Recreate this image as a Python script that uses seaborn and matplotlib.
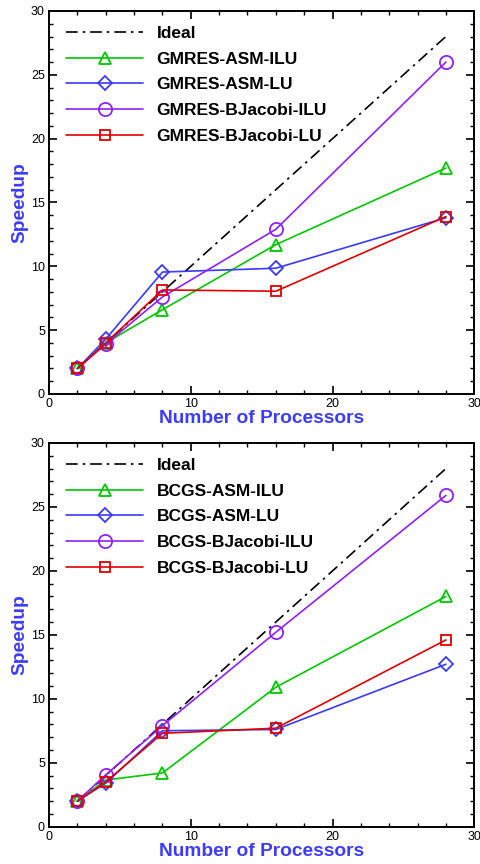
import pandas as pd
import matplotlib
matplotlib.use('Agg')
import matplotlib.pyplot as plt
import seaborn as sns
from matplotlib.ticker import MultipleLocator

# processor counts
procs = [2, 4, 8, 16, 28]
ideal = [2, 4, 8, 16, 28]

# GMRES speedups
gmres_asm_ilu = [2.0, 4.0, 6.6, 11.7, 17.7]
gmres_asm_lu = [2.0, 4.3, 9.55, 9.85, 13.8]
gmres_bj_ilu = [2.0, 3.9, 7.6, 12.9, 26.0]
gmres_bj_lu = [2.0, 4.0, 8.15, 8.05, 13.9]

# BCGS speedups
bcgs_asm_ilu = [2.0, 3.65, 4.2, 10.9, 18.0]
bcgs_asm_lu = [2.0, 3.4, 7.5, 7.6, 12.7]
bcgs_bj_ilu = [2.0, 4.05, 7.9, 15.2, 25.9]
bcgs_bj_lu = [2.0, 3.5, 7.3, 7.7, 14.6]

sns.set_style('ticks')
plt.rcParams['font.family'] = ['Liberation Sans', 'DejaVu Sans']
plt.rcParams['text.color'] = 'black'
plt.rcParams['axes.edgecolor'] = 'black'

label_color = '#3c3cff'
styles = [
    ('ASM-ILU', '#00c800', '^', 9),
    ('ASM-LU', '#3a3aff', 'D', 7.5),
    ('BJacobi-ILU', '#9020ff', 'o', 9.5),
    ('BJacobi-LU', '#e00000', 's', 7.5),
]

fig = plt.figure(figsize=(4.81, 8.64), dpi=100)
ax_top = fig.add_axes([0.102, 0.544, 0.884, 0.4433])
ax_bot = fig.add_axes([0.102, 0.0432, 0.884, 0.4441])


def draw(ax, prefix, series):
    sns.lineplot(x=procs, y=ideal, ax=ax, color='black', lw=1.2,
                 linestyle=(0, (7, 3, 1.5, 3)), label='Ideal')
    for (name, color, marker, ms), vals in zip(styles, series):
        sns.lineplot(x=procs, y=vals, ax=ax, color=color, lw=1.2,
                     marker=marker, markersize=ms, markerfacecolor='none',
                     markeredgecolor=color, markeredgewidth=1.3,
                     label=f'{prefix}-{name}')
    ax.set_xlim(0, 30)
    ax.set_ylim(0, 30)
    ax.xaxis.set_major_locator(MultipleLocator(10))
    ax.xaxis.set_minor_locator(MultipleLocator(2))
    ax.yaxis.set_major_locator(MultipleLocator(5))
    ax.yaxis.set_minor_locator(MultipleLocator(1))
    ax.tick_params(which='both', direction='in', top=True, right=True,
                   labelsize=9, colors='black', pad=3)
    ax.tick_params(which='major', length=6, width=1.2)
    ax.tick_params(which='minor', length=3, width=1.0)
    for s in ax.spines.values():
        s.set_linewidth(1.4)
        s.set_visible(True)
    ax.set_xlabel('Number of Processors', fontsize=13.8, fontweight='bold',
                  color=label_color, labelpad=0)
    ax.set_ylabel('Speedup', fontsize=13.8, fontweight='bold',
                  color=label_color, labelpad=2)
    ax.legend(loc='upper left', bbox_to_anchor=(0.012, 0.993), frameon=False,
              prop={'weight': 'bold', 'size': 12.5}, handlelength=4.4,
              handletextpad=0.8, labelspacing=0.61, borderaxespad=0.3,
              borderpad=0.4, labelcolor='black')


draw(ax_top, 'GMRES', [gmres_asm_ilu, gmres_asm_lu, gmres_bj_ilu, gmres_bj_lu])
draw(ax_bot, 'BCGS', [bcgs_asm_ilu, bcgs_asm_lu, bcgs_bj_ilu, bcgs_bj_lu])

fig.savefig('out.png', dpi=100)
